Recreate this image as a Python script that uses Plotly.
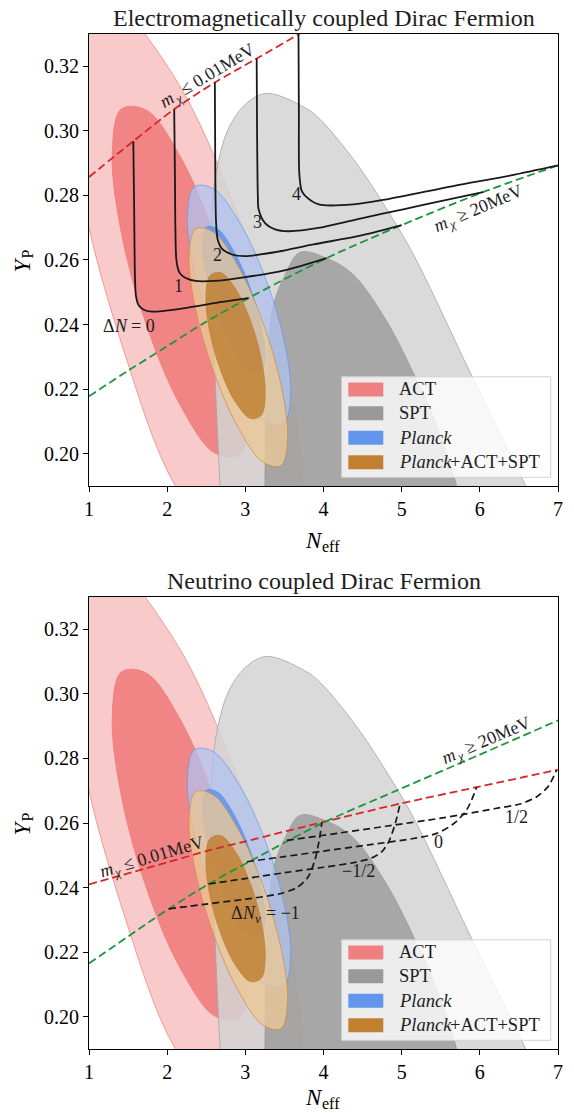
import math
import plotly.graph_objects as go

FONT = "Liberation Serif"

# ---------------- data (N_eff, Y_P) ----------------
# confidence contours (outer = 95%, inner = 68%), boundary points
act95_N = [3.72, 3.55, 2.891, 2.10, 1.456, 0.930, 0.738, 0.930, 1.22, 2.10, 2.88, 3.50]
act95_Y = [0.188, 0.166, 0.1662, 0.1902, 0.2311, 0.2779, 0.3182, 0.3410, 0.3420, 0.3164, 0.2755, 0.2300]
act68_N = [3.048, 2.931, 2.611, 2.173, 1.736, 1.415, 1.298, 1.415, 1.736, 2.173, 2.611, 2.931]
act68_Y = [0.2137, 0.1998, 0.2002, 0.2148, 0.2398, 0.2683, 0.2929, 0.3068, 0.3064, 0.2918, 0.2668, 0.2383]

spt95_N = [3.27, 3.76, 3.955, 4.42, 4.81, 5.15, 5.87, 6.58, 6.95, 7.15, 6.9, 5.5, 3.8, 2.95,
           2.74, 2.676, 2.61, 2.56, 2.59, 2.65, 2.78, 3.0]
spt95_Y = [0.3116, 0.3072, 0.3036, 0.290, 0.2757, 0.2617, 0.2255, 0.1904, 0.172, 0.150, 0.120, 0.090,
           0.100, 0.130, 0.165, 0.1904, 0.2255, 0.255, 0.2798, 0.290, 0.3005, 0.3082]
spt68_N = [3.70, 4.05, 4.38, 4.81, 5.16, 5.43, 5.70, 5.82, 5.85, 5.6, 4.6, 3.5, 3.25,
           3.25, 3.26, 3.29, 3.36, 3.51]
spt68_Y = [0.2624, 0.2605, 0.2555, 0.241, 0.2245, 0.210, 0.1904, 0.175, 0.160, 0.140, 0.125, 0.145,
           0.170, 0.1904, 0.210, 0.2307, 0.2462, 0.2555]

planck95_N = [3.58, 3.492, 3.25, 2.92, 2.59, 2.348, 2.26, 2.348, 2.59, 2.92, 3.25, 3.492]
planck95_Y = [0.2188, 0.2095, 0.2101, 0.2203, 0.2374, 0.2568, 0.2734, 0.2827, 0.2821, 0.2719, 0.2548, 0.2354]
planck68_N = [3.25, 3.196, 3.05, 2.85, 2.65, 2.504, 2.45, 2.504, 2.65, 2.85, 3.05, 3.196]
planck68_Y = [0.2301, 0.2248, 0.2255, 0.2322, 0.2429, 0.2549, 0.2649, 0.2702, 0.2695, 0.2628, 0.2521, 0.2401]

comb95_N = [3.54, 3.456, 3.225, 2.91, 2.595, 2.364, 2.28, 2.364, 2.595, 2.91, 3.225, 3.456]
comb95_Y = [0.2050, 0.1963, 0.1974, 0.2080, 0.2254, 0.2447, 0.2610, 0.2697, 0.2686, 0.2580, 0.2406, 0.2213]
comb68_N = [3.255, 3.204, 3.065, 2.875, 2.685, 2.546, 2.495, 2.546, 2.685, 2.875, 3.065, 3.204]
comb68_Y = [0.2187, 0.2119, 0.2109, 0.2159, 0.2257, 0.2376, 0.2483, 0.2551, 0.2561, 0.2511, 0.2413, 0.2294]

# ---- top panel: electromagnetically coupled ----
em_light_N = [1.0, 1.567, 2.09, 2.61, 3.145, 3.68, 3.76]
em_light_Y = [0.2857, 0.2968, 0.3067, 0.3150, 0.3224, 0.3299, 0.3310]
em_heavy_N = [1.0, 1.5, 2.0, 2.48, 3.04, 4.04, 5.0, 6.04, 7.0]
em_heavy_Y = [0.2178, 0.2257, 0.2333, 0.2406, 0.2482, 0.2606, 0.2708, 0.2810, 0.2893]

em_dN0_N = [1.567, 1.578, 1.588, 1.60, 1.635, 1.70, 1.80, 2.2, 2.7, 3.04]
em_dN0_Y = [0.2968, 0.275, 0.255, 0.2490, 0.2460, 0.2446, 0.2440, 0.2450, 0.2470, 0.2482]
em_dN1_N = [2.09, 2.10, 2.105, 2.12, 2.16, 2.23, 2.36, 2.6, 3.0, 3.5, 4.04]
em_dN1_Y = [0.3067, 0.285, 0.270, 0.2596, 0.2560, 0.2545, 0.2535, 0.2535, 0.2547, 0.2568, 0.2606]
em_dN2_N = [2.61, 2.615, 2.625, 2.645, 2.70, 2.83, 3.0, 3.4, 3.87, 4.5, 5.0]
em_dN2_Y = [0.3150, 0.290, 0.2720, 0.2665, 0.2635, 0.2617, 0.2612, 0.2625, 0.2648, 0.2677, 0.2708]
em_dN3_N = [3.145, 3.15, 3.16, 3.17, 3.25, 3.38, 3.55, 3.955, 4.5, 5.02, 5.5, 6.04]
em_dN3_Y = [0.3224, 0.300, 0.2800, 0.2757, 0.2715, 0.2695, 0.2689, 0.2700, 0.2730, 0.2757, 0.2782, 0.2810]
em_dN4_N = [3.68, 3.685, 3.69, 3.72, 3.77, 3.94, 4.38, 4.81, 5.66, 6.4, 7.0]
em_dN4_Y = [0.3299, 0.305, 0.2870, 0.2815, 0.2798, 0.2772, 0.2772, 0.2788, 0.2829, 0.2862, 0.2893]
em_num_labels = ["1", "2", "3", "4"]
em_num_label_N = [2.15, 2.65, 3.15, 3.66]
em_num_label_Y = [0.2519, 0.2617, 0.2717, 0.2805]
em_dN0_label_pos = (1.51, 0.2395)

# ---- bottom panel: neutrino coupled ----
nu_light_N = [1.0, 2.0, 2.53, 3.0, 3.98, 4.98, 5.96, 7.0]
nu_light_Y = [0.2410, 0.2478, 0.2515, 0.2543, 0.2602, 0.2660, 0.2711, 0.2765]
nu_heavy_N = [1.0, 2.02, 2.53, 3.08, 3.97, 4.94, 6.0, 7.0]
nu_heavy_Y = [0.2165, 0.2334, 0.2411, 0.2484, 0.2598, 0.2701, 0.2812, 0.2918]

nu_m1_N = [2.02, 2.5, 3.0, 3.44, 3.66, 3.80, 3.89, 3.94, 3.98]
nu_m1_Y = [0.2334, 0.2349, 0.2364, 0.2381, 0.2400, 0.2432, 0.2485, 0.2540, 0.2602]
nu_mh_N = [2.53, 3.0, 3.5, 4.0, 4.4, 4.62, 4.75, 4.84, 4.92, 4.98]
nu_mh_Y = [0.2411, 0.2428, 0.2446, 0.2463, 0.2478, 0.2492, 0.2512, 0.2545, 0.2600, 0.2660]
nu_0_N = [3.02, 3.5, 4.0, 4.6, 5.15, 5.45, 5.66, 5.83, 5.96]
nu_0_Y = [0.2480, 0.2496, 0.2513, 0.2533, 0.2552, 0.2568, 0.2597, 0.2640, 0.2711]
nu_ph_N = [3.53, 4.0, 4.8, 5.5, 5.79, 6.2, 6.5, 6.72, 6.87, 6.98]
nu_ph_Y = [0.2546, 0.2562, 0.2590, 0.2615, 0.2627, 0.2645, 0.2658, 0.2680, 0.2712, 0.2763]
nu_num_labels = ["−1/2", "0", "1/2"]
nu_num_label_N = [4.45, 5.47, 6.47]
nu_num_label_Y = [0.2452, 0.2542, 0.2619]
nu_m1_label_pos = (3.26, 0.2322)

x_ticks = [1, 2, 3, 4, 5, 6, 7]
y_ticks = [0.20, 0.22, 0.24, 0.26, 0.28, 0.30, 0.32]
legend_colors = ["rgb(240,128,128)", "rgb(153,153,153)", "rgb(100,149,237)", "rgb(192,128,48)"]

# ---------------- styles ----------------
contours = [
    (act95_N, act95_Y, "rgba(240,128,128,0.42)", "rgba(240,128,128,0.75)"),
    (act68_N, act68_Y, "rgba(240,128,128,0.95)", "rgba(240,128,128,0.95)"),
    (spt95_N, spt95_Y, "rgba(211,211,211,0.85)", "rgba(165,165,165,0.8)"),
    (spt68_N, spt68_Y, "rgba(140,140,140,0.65)", "rgba(140,140,140,0.5)"),
    (planck95_N, planck95_Y, "rgba(175,195,240,0.75)", "rgba(100,149,237,0.7)"),
    (planck68_N, planck68_Y, "rgba(100,149,237,0.9)", "rgba(100,149,237,0.9)"),
    (comb95_N, comb95_Y, "rgba(235,200,150,0.78)", "rgba(200,140,60,0.7)"),
    (comb68_N, comb68_Y, "rgba(190,125,45,0.8)", "rgba(190,125,45,0.6)"),
]
RED = "rgb(214,39,40)"
GREEN = "rgb(30,150,60)"
BLACK = "rgb(25,25,25)"
TXT = "rgb(30,30,30)"

fig = go.Figure()


def closed(a):
    return list(a) + [a[0]]


for xa, ya in (("x", "y"), ("x2", "y2")):
    for n, y, fc, lc in contours:
        fig.add_trace(go.Scatter(x=closed(n), y=closed(y), mode="lines", fill="toself",
                                 fillcolor=fc, line=dict(color=lc, width=1, shape="spline", smoothing=1),
                                 xaxis=xa, yaxis=ya, hoverinfo="skip", showlegend=False))


def add_line(n, y, color, xa, ya, dash="solid", width=1.8):
    fig.add_trace(go.Scatter(x=n, y=y, mode="lines",
                             line=dict(color=color, width=width, dash=dash, shape="spline", smoothing=0.8),
                             xaxis=xa, yaxis=ya, hoverinfo="skip", showlegend=False))


# top panel lines
add_line(em_light_N, em_light_Y, RED, "x", "y", dash="8px,4px")
add_line(em_heavy_N, em_heavy_Y, GREEN, "x", "y", dash="8px,4px")
for n, y in ((em_dN0_N, em_dN0_Y), (em_dN1_N, em_dN1_Y), (em_dN2_N, em_dN2_Y),
             (em_dN3_N, em_dN3_Y), (em_dN4_N, em_dN4_Y)):
    add_line(n, y, BLACK, "x", "y")

# bottom panel lines
add_line(nu_light_N, nu_light_Y, RED, "x2", "y2", dash="8px,4px")
add_line(nu_heavy_N, nu_heavy_Y, GREEN, "x2", "y2", dash="8px,4px")
for n, y in ((nu_m1_N, nu_m1_Y), (nu_mh_N, nu_mh_Y), (nu_0_N, nu_0_Y), (nu_ph_N, nu_ph_Y)):
    add_line(n, y, BLACK, "x2", "y2", dash="7px,4px", width=1.7)

# ---------------- annotations ----------------
ann = []


def text(x, y, s, xref, yref, size=18, angle=0, italic=False, color=TXT, **kw):
    d = dict(x=x, y=y, text=s, xref=xref, yref=yref, showarrow=False, textangle=angle,
             font=dict(family=FONT, size=size, color=color, style="italic" if italic else "normal"))
    d.update(kw)
    ann.append(d)


def pieces(x, y, xref, yref, parts, angle=0.0, color=TXT):
    """a label made of plain runs laid along one baseline;
    parts: (text, size, italic, width_px, drop_px, gap_before_px)"""
    total = sum(p[3] + p[5] for p in parts)
    pos = -total / 2.0
    th = math.radians(angle)
    for s, size, ital, w, drop, gap in parts:
        pos += gap
        d = pos + w / 2.0
        pos += w
        xs = d * math.cos(th) + drop * math.sin(th)
        ys = d * math.sin(th) - drop * math.cos(th)
        text(x, y, s, xref, yref, size=size, angle=-angle, italic=ital, color=color,
             xanchor="center", yanchor="middle", xshift=xs, yshift=ys)


S = 18
mx_light = [("m", S, True, 13.0, 0, 0), ("χ", 13, True, 7.2, 5.5, 0), ("≤ 0.01MeV", S, False, 82.9, 0, 4.5)]
mx_heavy = [("m", S, True, 13.0, 0, 0), ("χ", 13, True, 7.2, 5.5, 0), ("≥ 20MeV", S, False, 69.4, 0, 4.5)]
dN0 = [("Δ", S, False, 11.0, 0, 0), ("N", S, True, 12.0, 0, 0.5), ("= 0", S, False, 23.7, 0, 4.5)]
dNnu = [("Δ", S, False, 11.0, 0, 0), ("N", S, True, 12.0, 0, 0.5), ("ν", 13, True, 6.5, 5.5, 0),
        ("= −1", S, False, 33.8, 0, 4.5)]
x_title = [("N", 23, True, 15.3, 0, 0), ("eff", 16, False, 17.8, 5.5, 0.5)]
y_title = [("Y", 23, True, 12.8, 0, 0), ("P", 16, False, 8.9, 6.0, 0.0)]

text(0.5, 1.0, "Electromagnetically coupled Dirac Fermion", "x domain", "y domain", size=24,
     yanchor="bottom", yshift=1)
text(0.5, 1.0, "Neutrino coupled Dirac Fermion", "x2 domain", "y2 domain", size=24,
     yanchor="bottom", yshift=1)

# axis titles (top one sits like the reference; bottom one kept inside the page)
pieces(0.5, -0.1215, "x domain", "y domain", x_title, color="black")
pieces(0.5, -0.1075, "x2 domain", "y2 domain", x_title, color="black")
for xr, yr in (("x domain", "y domain"), ("x2 domain", "y2 domain")):
    pieces(-0.1429, 0.5, xr, yr, y_title, angle=90, color="black")

pieces(2.506, 0.3172, "x", "y", mx_light, angle=31)
pieces(5.98, 0.2761, "x", "y", mx_heavy, angle=23)
pieces(em_dN0_label_pos[0], em_dN0_label_pos[1], "x", "y", dN0)
for s, n, y in zip(em_num_labels, em_num_label_N, em_num_label_Y):
    text(n, y, s, "x", "y", size=S)

pieces(1.80, 0.2496, "x2", "y2", mx_light, angle=16.5)
pieces(6.08, 0.2858, "x2", "y2", mx_heavy, angle=23)
pieces(nu_m1_label_pos[0], nu_m1_label_pos[1], "x2", "y2", dNnu)
for s, n, y in zip(nu_num_labels, nu_num_label_N, nu_num_label_Y):
    text(n, y, s, "x2", "y2", size=S)

# ---------------- legends (one per panel) ----------------
LEG = 18.5
PLANCK_W = 2.777 * LEG
legend_runs = [[("ACT", False, 0)], [("SPT", False, 0)], [("Planck", True, 0)],
               [("Planck", True, 0), ("+ACT+SPT", False, PLANCK_W)]]
shapes = []
row_y = [0.2137, 0.1607, 0.1068, 0.0524]
for xr, yr in (("x domain", "y domain"), ("x2 domain", "y2 domain")):
    shapes.append(dict(type="rect", xref=xr, yref=yr, x0=0.5388, x1=0.9844, y0=0.0192, y1=0.2415,
                       fillcolor="rgba(255,255,255,0.8)", line=dict(color="rgb(210,210,210)", width=1),
                       layer="above"))
    for runs, col, ry in zip(legend_runs, legend_colors, row_y):
        shapes.append(dict(type="rect", xref=xr, yref=yr, x0=0.5529, x1=0.6275, y0=ry - 0.0155,
                           y1=ry + 0.0155, fillcolor=col, line=dict(width=0), layer="above"))
        for s, ital, shift in runs:
            text(0.6561, ry, s, xr, yr, size=LEG, italic=ital, xanchor="left", yanchor="middle",
                 xshift=shift)

axis_common = dict(showline=True, linecolor="black", linewidth=1.2, mirror=True, ticks="outside",
                   ticklen=5, tickwidth=1.2, tickcolor="black", showgrid=False, zeroline=False,
                   automargin=False, tickfont=dict(family=FONT, size=20, color="black"))
xa = dict(axis_common, range=[1, 7], tickvals=x_ticks, ticktext=[str(v) for v in x_ticks])
ya = dict(axis_common, range=[0.19, 0.33], tickvals=y_ticks, ticktext=[f"{v:.2f}" for v in y_ticks])

fig.update_layout(
    width=574, height=1113,
    margin=dict(l=89, r=16, t=34, b=64),
    paper_bgcolor="white", plot_bgcolor="white",
    xaxis=dict(xa, domain=[0, 1], anchor="y"),
    yaxis=dict(ya, domain=[0.5547, 1.0], anchor="x"),
    xaxis2=dict(xa, domain=[0, 1], anchor="y2"),
    yaxis2=dict(ya, domain=[0.0, 0.4453], anchor="x2"),
    annotations=ann, shapes=shapes, showlegend=False,
    font=dict(family=FONT, color="black"),
)

fig.write_html("out.html")
